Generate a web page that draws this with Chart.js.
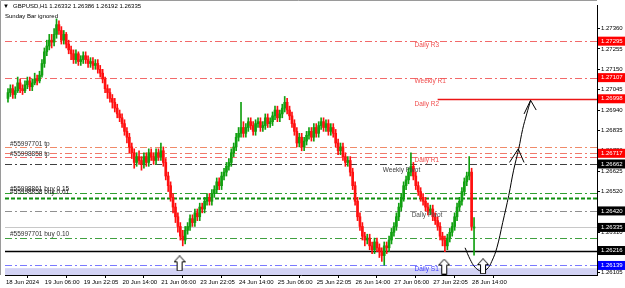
<!DOCTYPE html>
<html>
<head>
<meta charset="utf-8">
<script src="https://cdn.jsdelivr.net/npm/chart.js@4.4.1/dist/chart.umd.min.js"></script>
<style>
  html, body { margin: 0; padding: 0; background: #fff; }
  canvas { display: block; }
</style>
</head>
<body>
<canvas id="chart" width="625" height="288"></canvas>
<script>
// GBPUSD H1 candles, one entry per bar (18 Jun 14:00 .. 28 Jun 14:00)
const opens = [
  1.2700,1.2703,1.2705,1.2702,1.2704,1.2708,1.2705,1.2704,1.2707,1.2709,
  1.2706,1.2708,1.2710,1.2709,1.2712,1.2718,1.2724,1.2727,1.2730,1.2729,
  1.2733,1.2738,1.2735,1.2730,1.2733,1.2728,1.2725,1.2723,1.2720,1.2723,
  1.2719,1.2720,1.2722,1.2720,1.2718,1.2719,1.2717,1.2718,1.2715,1.2713,
  1.2710,1.2705,1.2703,1.2700,1.2698,1.2695,1.2692,1.2690,1.2687,1.2683,
  1.2680,1.2675,1.2672,1.2667,1.2670,1.2668,1.2666,1.2670,1.2667,1.2672,
  1.2670,1.2668,1.2672,1.2670,1.2673,1.2667,1.2660,1.2655,1.2649,1.2644,
  1.2639,1.2634,1.2629,1.2627,1.2632,1.2634,1.2638,1.2636,1.2641,1.2639,
  1.2644,1.2643,1.2647,1.2649,1.2647,1.2651,1.2653,1.2657,1.2655,1.2660,
  1.2662,1.2665,1.2667,1.2672,1.2675,1.2680,1.2682,1.2685,1.2682,1.2685,
  1.2688,1.2686,1.2683,1.2687,1.2688,1.2685,1.2686,1.2690,1.2687,1.2688,
  1.2691,1.2694,1.2690,1.2692,1.2695,1.2698,1.2694,1.2691,1.2687,1.2683,
  1.2677,1.2680,1.2675,1.2678,1.2681,1.2683,1.2680,1.2685,1.2682,1.2686,
  1.2688,1.2685,1.2687,1.2683,1.2685,1.2682,1.2677,1.2673,1.2675,1.2670,
  1.2667,1.2668,1.2662,1.2655,1.2647,1.2639,1.2634,1.2629,1.2627,1.2628,
  1.2624,1.2622,1.2626,1.2623,1.2621,1.2619,1.2624,1.2623,1.2627,1.2631,
  1.2634,1.2639,1.2644,1.2649,1.2655,1.2658,1.2662,1.2665,1.2660,1.2655,
  1.2652,1.2649,1.2647,1.2644,1.2642,1.2643,1.2639,1.2637,1.2634,1.2629,
  1.2627,1.2624,1.2628,1.2631,1.2634,1.2639,1.2644,1.2647,1.2652,1.2657,
  1.2660,1.2662,1.26332
];
const highs = [
  1.2705,1.2707,1.2707,1.2706,1.2711,1.2710,1.2707,1.2709,1.2711,1.2711,
  1.2710,1.2713,1.2712,1.2714,1.2720,1.2726,1.2730,1.2733,1.2733,1.2736,
  1.2741,1.2740,1.2737,1.2735,1.2734,1.2730,1.2727,1.2725,1.2725,1.2724,
  1.2722,1.2724,1.2724,1.2722,1.2721,1.2721,1.2720,1.2720,1.2717,1.2715,
  1.2711,1.2707,1.2705,1.2702,1.2700,1.2697,1.2694,1.2692,1.2689,1.2685,
  1.2682,1.2677,1.2674,1.2672,1.2673,1.2670,1.2672,1.2672,1.2674,1.2674,
  1.2672,1.2674,1.2674,1.2677,1.2675,1.2669,1.2662,1.2657,1.2651,1.2646,
  1.2641,1.2636,1.2632,1.2634,1.2636,1.2640,1.2640,1.2643,1.2643,1.2646,
  1.2646,1.2649,1.2651,1.2651,1.2653,1.2655,1.2659,1.2659,1.2662,1.2664,
  1.2667,1.2669,1.2674,1.2677,1.2682,1.2685,1.2698,1.2688,1.2687,1.2690,
  1.2690,1.2688,1.2689,1.2690,1.2690,1.2688,1.2692,1.2692,1.2690,1.2693,
  1.2696,1.2696,1.2694,1.2697,1.2701,1.2700,1.2696,1.2693,1.2689,1.2685,
  1.2682,1.2682,1.2680,1.2683,1.2685,1.2685,1.2687,1.2687,1.2688,1.2690,
  1.2690,1.2689,1.2689,1.2687,1.2687,1.2684,1.2679,1.2677,1.2677,1.2672,
  1.2670,1.2670,1.2664,1.2657,1.2649,1.2641,1.2636,1.2631,1.2630,1.2630,
  1.2626,1.2628,1.2628,1.2625,1.2623,1.2626,1.2626,1.2629,1.2633,1.2636,
  1.2641,1.2646,1.2651,1.2657,1.2660,1.2664,1.2672,1.2667,1.2662,1.2657,
  1.2654,1.2651,1.2649,1.2646,1.2645,1.2645,1.2641,1.2639,1.2636,1.2631,
  1.2629,1.2630,1.2633,1.2636,1.2641,1.2646,1.2649,1.2654,1.2659,1.2662,
  1.2670,1.2664,1.26386
];
const lows = [
  1.2698,1.2701,1.2700,1.2700,1.2703,1.2703,1.2702,1.2703,1.2705,1.2704,
  1.2704,1.2707,1.2707,1.2708,1.2711,1.2716,1.2722,1.2725,1.2726,1.2727,
  1.2731,1.2733,1.2728,1.2728,1.2726,1.2723,1.2720,1.2718,1.2718,1.2717,
  1.2717,1.2718,1.2718,1.2716,1.2716,1.2715,1.2715,1.2713,1.2711,1.2708,
  1.2703,1.2700,1.2698,1.2695,1.2693,1.2690,1.2688,1.2685,1.2681,1.2677,
  1.2672,1.2669,1.2664,1.2665,1.2666,1.2663,1.2664,1.2665,1.2665,1.2668,
  1.2666,1.2666,1.2668,1.2668,1.2665,1.2658,1.2652,1.2647,1.2641,1.2636,
  1.2631,1.2627,1.2624,1.2625,1.2630,1.2632,1.2634,1.2634,1.2637,1.2637,
  1.2641,1.2641,1.2645,1.2645,1.2645,1.2649,1.2651,1.2653,1.2653,1.2658,
  1.2660,1.2663,1.2665,1.2670,1.2673,1.2678,1.2680,1.2680,1.2680,1.2683,
  1.2684,1.2681,1.2681,1.2685,1.2683,1.2683,1.2684,1.2685,1.2685,1.2686,
  1.2689,1.2688,1.2688,1.2690,1.2693,1.2692,1.2689,1.2685,1.2681,1.2675,
  1.2675,1.2673,1.2673,1.2676,1.2679,1.2678,1.2678,1.2680,1.2680,1.2684,
  1.2683,1.2683,1.2681,1.2681,1.2680,1.2675,1.2671,1.2671,1.2668,1.2665,
  1.2665,1.2660,1.2653,1.2645,1.2637,1.2632,1.2627,1.2624,1.2625,1.2622,
  1.2620,1.2620,1.2621,1.2618,1.2616,1.2614,1.2620,1.2621,1.2625,1.2629,
  1.2632,1.2637,1.2642,1.2647,1.2653,1.2656,1.2660,1.2658,1.2653,1.2650,
  1.2647,1.2645,1.2642,1.2640,1.2640,1.2637,1.2635,1.2632,1.2627,1.2624,
  1.2621,1.2622,1.2626,1.2629,1.2632,1.2637,1.2642,1.2645,1.2650,1.2655,
  1.2658,1.2632,1.26192
];
const closes = [
  1.2703,1.2705,1.2702,1.2704,1.2708,1.2705,1.2704,1.2707,1.2709,1.2706,
  1.2708,1.2710,1.2709,1.2712,1.2718,1.2724,1.2727,1.2730,1.2729,1.2733,
  1.2738,1.2735,1.2730,1.2733,1.2728,1.2725,1.2723,1.2720,1.2723,1.2719,
  1.2720,1.2722,1.2720,1.2718,1.2719,1.2717,1.2718,1.2715,1.2713,1.2710,
  1.2705,1.2703,1.2700,1.2698,1.2695,1.2692,1.2690,1.2687,1.2683,1.2680,
  1.2675,1.2672,1.2667,1.2670,1.2668,1.2666,1.2670,1.2667,1.2672,1.2670,
  1.2668,1.2672,1.2670,1.2673,1.2667,1.2660,1.2655,1.2649,1.2644,1.2639,
  1.2634,1.2629,1.2627,1.2632,1.2634,1.2638,1.2636,1.2641,1.2639,1.2644,
  1.2643,1.2647,1.2649,1.2647,1.2651,1.2653,1.2657,1.2655,1.2660,1.2662,
  1.2665,1.2667,1.2672,1.2675,1.2680,1.2682,1.2685,1.2682,1.2685,1.2688,
  1.2686,1.2683,1.2687,1.2688,1.2685,1.2686,1.2690,1.2687,1.2688,1.2691,
  1.2694,1.2690,1.2692,1.2695,1.2698,1.2694,1.2691,1.2687,1.2683,1.2677,
  1.2680,1.2675,1.2678,1.2681,1.2683,1.2680,1.2685,1.2682,1.2686,1.2688,
  1.2685,1.2687,1.2683,1.2685,1.2682,1.2677,1.2673,1.2675,1.2670,1.2667,
  1.2668,1.2662,1.2655,1.2647,1.2639,1.2634,1.2629,1.2627,1.2628,1.2624,
  1.2622,1.2626,1.2623,1.2621,1.2619,1.2624,1.2623,1.2627,1.2631,1.2634,
  1.2639,1.2644,1.2649,1.2655,1.2658,1.2662,1.2665,1.2660,1.2655,1.2652,
  1.2649,1.2647,1.2644,1.2642,1.2643,1.2639,1.2637,1.2634,1.2629,1.2627,
  1.2624,1.2628,1.2631,1.2634,1.2639,1.2644,1.2647,1.2652,1.2657,1.2660,
  1.2662,1.2634,1.26335
];

// time labels, one every 16 bars
const timeLabels = ['18 Jun 2024','19 Jun 06:00','19 Jun 22:05','20 Jun 14:00','21 Jun 06:00',
  '23 Jun 22:05','24 Jun 14:00','25 Jun 06:00','25 Jun 22:05','26 Jun 14:00',
  '27 Jun 06:00','27 Jun 22:05','28 Jun 14:00'];
const priceTicks = [1.27360,1.27255,1.27150,1.27045,1.26940,1.26835,1.26730,
  1.26625,1.26520,1.26415,1.26310,1.26205,1.26105];

// horizontal levels drawn across the chart
const levelNames = ['Daily R3','Weekly R1','Daily R2','#55997701 tp','#55998858 tp','Daily R1',
  'Weekly Pivot','#55998861 buy 0.15','#55998858 buy 0.61','Daily Pivot','','#55997701 buy 0.10','','Daily S1'];
const levelPrices = [1.27295,1.27107,1.26998,1.26748,1.26717,1.26697,
  1.26662,1.26510,1.26485,1.26420,1.26335,1.26282,1.26216,1.26139];

// drawn curve (bar index, price) and its two arrow heads
const pathX = [188.3,190.4,192.4,194.9,197.3,199.3,201.4,203.8,206.3,208.3,210.4,212.0,213.7,215.3];
const pathY = [1.2623,1.2617,1.2613,1.2611,1.2612,1.2616,1.2623,1.2636,1.2650,1.2663,1.2674,1.2684,1.2692,1.2699];
const headX = [[206.6,210.2,212.6],[212.6,215.3,217.6]];
const headY = [[1.2667,1.2674,1.2667],[1.2692,1.2699,1.2694]];
// hollow up arrows
const markX = [70.7,179.7,195.7];
const markY = [1.26150,1.26133,1.26135];
const bandTop = 1.26125;

const GREEN = '#10a010', RED = '#ff1010';
const FONT = "'Liberation Sans', Arial, sans-serif";
const DASHDOT = [7, 3, 2, 3];

const levelStyles = [
  { color: '#f26a6a', dash: DASHDOT, tag: '#ff0000', lx: 167.5, dy: 4, text: '#f05050' },
  { color: '#f26a6a', dash: DASHDOT, tag: '#ff0000', lx: 167.5, dy: 4, text: '#f05050' },
  { color: 'rgb(235,20,20)', dash: [], from: 177, width: 1.4, tag: '#ff0000', lx: 167.5, dy: 5, text: '#f05050' },
  { color: '#f08a6a', dash: DASHDOT, lx: 0.8, dy: -3, text: '#303030' },
  { color: '#f07a6a', dash: DASHDOT, tag: '#ff0000', lx: 0.8, dy: 1, text: '#303030' },
  { color: '#f26a6a', dash: DASHDOT, lx: 167.5, dy: 3, text: '#f05050' },
  { color: '#404040', dash: DASHDOT, tag: '#000000', lx: 154.4, dy: 6, text: '#404040' },
  { color: '#30a030', dash: DASHDOT, lx: 0.8, dy: -4, text: '#202020' },
  { color: '#109010', dash: [4, 2], width: 2, lx: 0.8, dy: -6, text: '#202020' },
  { color: '#909090', dash: DASHDOT, tag: '#000000', lx: 166.3, dy: 4, text: '#505050' },
  { color: '#c8c8c8', dash: [], tag: '#000000' },
  { color: '#40a040', dash: DASHDOT, lx: 0.8, dy: -4, text: '#303030' },
  { color: '#000000', dash: [], width: 1.5, tag: '#000000' },
  { color: '#7a7aff', dash: DASHDOT, tag: '#0000ff', lx: 167.5, dy: 4, text: '#4040ff' }
];

function hollowArrow() {
  const c = document.createElement('canvas');
  c.width = 12; c.height = 16;
  const g = c.getContext('2d');
  g.beginPath();
  g.moveTo(6, 0.5); g.lineTo(11.5, 6.5); g.lineTo(8.5, 6.5); g.lineTo(8.5, 15.5);
  g.lineTo(3.5, 15.5); g.lineTo(3.5, 6.5); g.lineTo(0.5, 6.5); g.closePath();
  g.fillStyle = '#fff'; g.fill();
  g.strokeStyle = '#000'; g.lineWidth = 1; g.stroke();
  return c;
}

const candleColors = closes.map((c, i) => (c >= opens[i] ? GREEN : RED));

const overlay = {
  id: 'overlay',
  beforeDatasetsDraw(chart) {
    const { ctx, chartArea: a, scales: { x, y } } = chart;
    ctx.save();
    const yb = y.getPixelForValue(bandTop);
    ctx.fillStyle = '#d2d2f4';
    ctx.fillRect(a.left, yb, a.right - a.left, a.bottom - yb);
    levelPrices.forEach((p, i) => {
      const s = levelStyles[i];
      const py = Math.round(y.getPixelForValue(p)) + 0.5;
      const x0 = s.from == null ? a.left : x.getPixelForValue(s.from);
      ctx.beginPath();
      ctx.setLineDash(s.dash);
      ctx.lineWidth = s.width || 1;
      ctx.strokeStyle = s.color;
      ctx.moveTo(x0, py);
      ctx.lineTo(a.right, py);
      ctx.stroke();
    });
    ctx.restore();
  },
  afterDraw(chart) {
    const { ctx, chartArea: a, scales: { x, y } } = chart;
    ctx.save();
    ctx.textBaseline = 'middle';
    ctx.textAlign = 'left';
    // price axis labels
    ctx.font = '6px ' + FONT;
    ctx.fillStyle = '#000';
    priceTicks.forEach(v => ctx.fillText(v.toFixed(5), a.right + 4, y.getPixelForValue(v)));
    ctx.font = '6.5px ' + FONT;
    levelPrices.forEach((p, i) => {
      const s = levelStyles[i];
      if (!levelNames[i]) return;
      ctx.fillStyle = s.text;
      ctx.fillText(levelNames[i], x.getPixelForValue(s.lx), y.getPixelForValue(p) + s.dy);
    });
    // price tags on the axis
    ctx.font = '6px ' + FONT;
    levelPrices.forEach((p, i) => {
      const s = levelStyles[i];
      if (!s.tag) return;
      const py = y.getPixelForValue(p);
      ctx.fillStyle = s.tag;
      ctx.fillRect(a.right + 1, py - 4.5, 28, 9);
      ctx.fillStyle = '#fff';
      ctx.fillText(p.toFixed(5), a.right + 4, py);
    });
    // header
    const last = closes.length - 1;
    ctx.fillStyle = '#000';
    ctx.font = '6px ' + FONT;
    ctx.fillText('\u25BC', 3, 6);
    ctx.fillText('GBPUSD,H1 ' + [opens[last], highs[last], lows[last], closes[last]].map(v => v.toFixed(5)).join(' '), 13, 6);
    ctx.fillText('Sunday Bar ignored', 5, 16);
    // frame
    ctx.strokeStyle = '#9a9a9a';
    ctx.lineWidth = 1;
    ctx.beginPath();
    ctx.moveTo(0.5, a.bottom); ctx.lineTo(0.5, 0.5); ctx.lineTo(a.right, 0.5);
    ctx.stroke();
    ctx.restore();
  }
};

const arrowImg = hollowArrow();

new Chart(document.getElementById('chart'), {
  type: 'bar',
  data: {
    datasets: [
      {
        label: 'wick',
        data: lows.map((l, i) => ({ x: i, y: [l, highs[i]] })),
        backgroundColor: candleColors,
        barThickness: 1,
        grouped: false,
        order: 3
      },
      {
        label: 'body',
        data: opens.map((o, i) => ({ x: i, y: [o, closes[i]] })),
        backgroundColor: candleColors,
        barThickness: 2,
        minBarLength: 1,
        grouped: false,
        order: 2
      },
      {
        type: 'line',
        data: pathX.map((v, i) => ({ x: v, y: pathY[i] })),
        borderColor: '#000', borderWidth: 1, tension: 0.4, pointRadius: 0, order: 1
      },
      ...headX.map((hx, k) => ({
        type: 'line',
        data: hx.map((v, i) => ({ x: v, y: headY[k][i] })),
        borderColor: '#000', borderWidth: 1, tension: 0, pointRadius: 0, order: 1
      })),
      {
        type: 'scatter',
        data: markX.map((v, i) => ({ x: v, y: markY[i] })),
        pointStyle: arrowImg,
        order: 0
      }
    ]
  },
  options: {
    responsive: false,
    animation: false,
    events: [],
    layout: { padding: 0 },
    plugins: { legend: { display: false }, tooltip: { enabled: false } },
    scales: {
      x: {
        type: 'linear',
        offset: false,
        min: -1.2255,
        max: 242.65,
        afterBuildTicks: s => { s.ticks = timeLabels.map((t, k) => ({ value: k * 16 })); },
        afterFit: s => { s.height = 13; s.paddingLeft = 0; s.paddingRight = 0; },
        grid: { drawOnChartArea: false, tickLength: 3, color: '#000' },
        border: { display: true, color: '#000' },
        ticks: {
          align: 'start', padding: 1, maxRotation: 0, autoSkip: false, labelOffset: -2,
          color: '#000', font: { family: FONT, size: 6 },
          callback: v => timeLabels[Math.round(v / 16)]
        }
      },
      y: {
        position: 'right',
        min: 1.260898,
        max: 1.274814,
        afterBuildTicks: s => { s.ticks = priceTicks.map(v => ({ value: v })); },
        afterFit: s => { s.width = 28; s.paddingTop = 0; s.paddingBottom = 0; },
        grid: { drawOnChartArea: false, tickLength: 3, color: '#000' },
        border: { display: true, color: '#000' },
        ticks: { display: false }
      }
    }
  },
  plugins: [overlay]
});
</script>
</body>
</html>
